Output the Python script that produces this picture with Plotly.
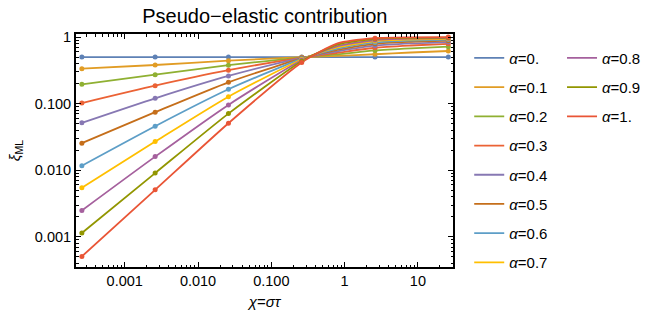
import plotly.graph_objects as go

# sigma*tau values (mesh points + a few read-off intermediate points)
chi = [0.00026, 0.0026, 0.026, 0.26, 0.8, 2.6, 8, 26]
is_mesh = [1, 1, 1, 1, 0, 1, 0, 1]

alphas = ["0.", "0.1", "0.2", "0.3", "0.4", "0.5", "0.6", "0.7", "0.8", "0.9", "1."]

xi_a00 = [0.5, 0.5, 0.5, 0.5, 0.5, 0.5, 0.5, 0.5]
xi_a01 = [0.335, 0.38, 0.441, 0.497, 0.52, 0.551, 0.585, 0.616]
xi_a02 = [0.195, 0.272, 0.377, 0.494, 0.55, 0.628, 0.675, 0.716]
xi_a03 = [0.102, 0.186, 0.317, 0.49, 0.58, 0.69, 0.745, 0.79]
xi_a04 = [0.0514, 0.120, 0.260, 0.485, 0.61, 0.74, 0.80, 0.84]
xi_a05 = [0.0255, 0.0743, 0.209, 0.478, 0.64, 0.79, 0.845, 0.88]
xi_a06 = [0.0117, 0.0458, 0.164, 0.47, 0.67, 0.83, 0.885, 0.915]
xi_a07 = [0.00544, 0.0269, 0.127, 0.46, 0.70, 0.87, 0.915, 0.94]
xi_a08 = [0.00249, 0.0160, 0.0957, 0.447, 0.73, 0.90, 0.945, 0.96]
xi_a09 = [0.00114, 0.00905, 0.0708, 0.433, 0.77, 0.94, 0.97, 0.98]
xi_a10 = [0.000508, 0.00508, 0.0508, 0.415, 0.80, 0.96, 0.99, 0.997]
series = [xi_a00, xi_a01, xi_a02, xi_a03, xi_a04, xi_a05, xi_a06, xi_a07, xi_a08, xi_a09, xi_a10]

colors = ["#5E81B5", "#E19C24", "#8FB032", "#EB6235", "#8778B3", "#C56E1A",
          "#5D9EC7", "#FFBF00", "#A5609D", "#929600", "#E95536"]

x_ticks = [0.001, 0.01, 0.1, 1, 10]
x_ticktext = ["0.001", "0.010", "0.100", "1", "10"]
y_ticks = [0.001, 0.01, 0.1, 1]
y_ticktext = ["0.001", "0.010", "0.100", "1"]

FONT = "Liberation Sans, Arial, sans-serif"

fig = go.Figure()
for i, (a, ys, c) in enumerate(zip(alphas, series, colors)):
    lg = "legend" if i < 8 else "legend2"
    fig.add_trace(go.Scatter(
        x=chi, y=ys, mode="lines",
        line=dict(color=c, width=1.8, shape="spline", smoothing=0.6),
        name=f"<i>α</i>=" + a,
        legend=lg, legendgroup=f"g{i}",
    ))
for i, (ys, c) in enumerate(zip(series, colors)):
    lg = "legend" if i < 8 else "legend2"
    fig.add_trace(go.Scatter(
        x=[x for x, m in zip(chi, is_mesh) if m],
        y=[y for y, m in zip(ys, is_mesh) if m],
        mode="markers", marker=dict(color=c, size=5),
        showlegend=False, legend=lg, legendgroup=f"g{i}",
    ))

minor_vals = [m * 10 ** e for e in range(-4, 2) for m in range(2, 10)]

axis_common = dict(
    type="log", showgrid=False, zeroline=False, automargin=False,
    showline=True, linecolor="black", linewidth=2, mirror="allticks",
    ticks="inside", ticklen=5, tickwidth=1, tickcolor="black",
    tickfont=dict(family=FONT, size=14.5, color="black"),
    minor=dict(ticks="inside", ticklen=2.5, tickwidth=1, tickcolor="black",
               tickmode="array", tickvals=minor_vals, showgrid=False),
)

fig.update_xaxes(**axis_common, range=[-3.665, 1.479],
                 tickmode="array", tickvals=x_ticks, ticktext=x_ticktext,
                 title=dict(text="<i>χ</i>=<i>στ</i>", font=dict(family=FONT, size=15, color="black"),
                            standoff=8))
fig.update_yaxes(**axis_common, range=[-3.453, 0.045],
                 tickmode="array", tickvals=y_ticks, ticktext=y_ticktext,
                 title=dict(text="<i>ξ</i><sub>ML</sub>", font=dict(family=FONT, size=15, color="black"),
                            standoff=11))

legend_common = dict(
    font=dict(family=FONT, size=15, color="black"),
    bgcolor="rgba(0,0,0,0)", borderwidth=0,
    tracegroupgap=6.7, yanchor="top", orientation="v", maxheight=300,
)

fig.update_layout(
    width=646, height=322,
    margin=dict(l=76, r=193, t=34, b=55, autoexpand=False),
    paper_bgcolor="white", plot_bgcolor="white",
    title=dict(text="Pseudo−elastic contribution", x=0.41, xanchor="center",
               y=0.95, yanchor="middle",
               font=dict(family=FONT, size=20, color="black")),
    showlegend=True,
    legend=dict(**legend_common, x=1.043, xanchor="left", y=0.967),
    legend2=dict(**legend_common, x=1.512, xanchor="right", y=0.967),
)

fig.write_html("out.html", config={"displayModeBar": False},
               post_script="document.body.style.margin='0';document.body.style.padding='0';")
